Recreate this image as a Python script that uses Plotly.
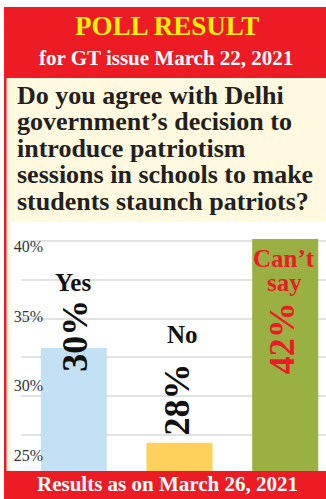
import plotly.graph_objects as go

W, H = 326, 499
ML, MR, MT, MB = 21, 0, 239, 28
PW, PH = W - ML - MR, H - MT - MB


def fx(x):
    # figure pixel -> paper (plot-area) fraction
    return (x - ML) / PW


def fy(y):
    return (H - MB - y) / PH


# ---- data ----
categories = ["Yes", "No", "Can’t say"]
poll_pct = [30, 28, 42]              # printed results
bar_heights = [33.1, 27.0, 42.0]     # bar tops as drawn against the axis
bar_colors = ["#C3E1F5", "#FDD15B", "#9AB042"]
tick_vals = [25, 30, 35, 40]
tick_text = [f"{v}%" for v in tick_vals]
title_text = "POLL RESULT"
subtitle_text = "for GT issue March 22, 2021"
question_lines = [
    "Do you agree with Delhi",
    "government’s decision to",
    "introduce patriotism",
    "sessions in schools to make",
    "students staunch patriots?",
]
footer_text = "Results as on March 26, 2021"

RED = "#ED1C24"
CREAM = "#FFFADF"
SERIF = "Liberation Serif"

fig = go.Figure()
fig.add_trace(go.Bar(
    x=categories, y=bar_heights, marker_color=bar_colors,
    marker_line_width=0, width=0.625, hoverinfo="skip", showlegend=False,
))
fig.add_trace(go.Scatter(
    x=[categories[0]], y=[tick_vals[0]], yaxis="y2", mode="markers",
    marker=dict(opacity=0), hoverinfo="skip", showlegend=False,
))


def rect(x0, x1, y0, y1, color, layer="below"):
    return dict(type="rect", xref="paper", yref="paper", x0=fx(x0), x1=fx(x1),
                y0=fy(y1), y1=fy(y0), fillcolor=color, line_width=0, layer=layer)


shapes = [
    rect(4, 326, 7, 78, RED),          # header
    rect(6, 326, 78, 222, CREAM),      # question panel
    rect(6, 11, 222, 471, CREAM),      # left cream strip
    rect(4, 6.5, 78, 471, RED),        # left red border
    rect(4, 326, 471, 499, RED, "above"),  # footer
]


def label(text, x, y, size, color, xref="paper", xanchor="center", xshift=0, angle=0):
    return dict(text=text, x=x, y=fy(y), xref=xref, yref="paper", showarrow=False,
                xanchor=xanchor, yanchor="middle", xshift=xshift, textangle=angle,
                font=dict(family=SERIF, size=size, color=color, weight="bold"))


ann = []
ann.append(label(title_text, fx(167), 26, 27, "#FFF200"))
ann.append(label(subtitle_text, fx(166), 58, 21, "white"))
q_centers = [95, 121.5, 148, 174.5, 201]
for line, yc in zip(question_lines, q_centers):
    ann.append(label(line, fx(15), yc, 26, "#231F20", xanchor="left"))
ann.append(label(footer_text, fx(167), 484, 21, "white"))

# category names
ann.append(label(categories[0], categories[0], 282, 25, "#111111", xref="x", xshift=-1))
ann.append(label(categories[1], categories[1], 334, 25, "#111111", xref="x", xshift=3))
cs_words = categories[2].split(" ")
ann.append(label(cs_words[0], categories[2], 258, 25, RED, xref="x", xshift=-1))
ann.append(label(cs_words[1], categories[2], 282, 25, RED, xref="x", xshift=-1))

# rotated percentages
pct_pos = [(336, 1, "#111111"), (400, -3, "#111111"), (338, -3, RED)]
for cat, p, (yc, xs, col) in zip(categories, poll_pct, pct_pos):
    ann.append(label(f"{p}%", cat, yc, 36, col, xref="x", xshift=xs, angle=-90))

fig.update_layout(
    width=W, height=H, autosize=False,
    margin=dict(l=ML, r=MR, t=MT, b=MB, pad=0),
    paper_bgcolor="white", plot_bgcolor="white",
    showlegend=False,
    shapes=shapes, annotations=ann,
    xaxis=dict(range=[-0.5, 2.386], showticklabels=False, showgrid=False,
               zeroline=False, showline=False, fixedrange=True),
    yaxis=dict(range=[25.19, 40.12], tick0=25, dtick=2.5, showticklabels=False,
               showgrid=True, gridcolor="#E2E2E2", gridwidth=2, zeroline=False,
               showline=False, fixedrange=True),
    yaxis2=dict(overlaying="y", anchor="free", position=fx(43), side="left",
                range=[23.85, 40.54], tickvals=tick_vals, ticktext=tick_text,
                showgrid=False, zeroline=False, showline=False, ticks="",
                tickfont=dict(family=SERIF, size=16, color="#333333"), fixedrange=True),
)

fig.write_html("out.html")
